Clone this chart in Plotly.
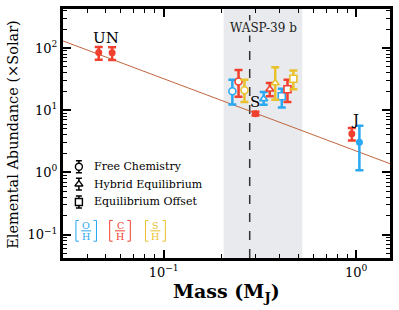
import numpy as np
import plotly.graph_objects as go

# ---------------- data ----------------
trend_mass = [0.03, 1.5]
trend_abund = [130.0, 1.38]

ss_CH_mass = [0.046, 0.054, 0.30, 0.95]
ss_CH = [85.0, 84.0, 8.8, 4.2]
ss_CH_plus = [19.0, 19.0, 0.6, 0.95]
ss_CH_minus = [20.0, 20.0, 0.6, 0.95]

ss_OH_mass = [1.04]
ss_OH = [3.05]
ss_OH_plus = [2.55]
ss_OH_minus = [1.97]

methods = ["Free Chemistry", "Hybrid Equilibrium", "Equilibrium Offset"]
method_symbols = ["circle", "triangle-up", "square"]

w39_mass_OH = [0.2275, 0.331, 0.411]
w39_OH = [20.2, 15.2, 16.8]
w39_OH_plus = [10.6, 4.5, 5.4]
w39_OH_minus = [7.8, 3.0, 5.7]

w39_mass_CH = [0.245, 0.356, 0.440]
w39_CH = [29.0, 21.7, 21.7]
w39_CH_plus = [15.5, 5.7, 9.1]
w39_CH_minus = [12.6, 4.9, 8.1]

w39_mass_SH = [0.263, 0.380, 0.472]
w39_SH = [20.9, 27.4, 32.0]
w39_SH_plus = [9.9, 21.6, 11.5]
w39_SH_minus = [7.3, 12.7, 10.3]

wasp39_mass = 0.28
wasp39_band = [0.205, 0.525]

ratio_labels = [("O", "H"), ("C", "H"), ("S", "H")]

x_tickvals = [0.1, 1]
x_ticktext = ["10<sup>−1</sup>", "10<sup>0</sup>"]
y_tickvals = [0.1, 1, 10, 100]
y_ticktext = ["10<sup>−1</sup>", "10<sup>0</sup>", "10<sup>1</sup>", "10<sup>2</sup>"]

# ---------------- style ----------------
BLUE = "#2aa8f2"
RED = "#f2402e"
YEL = "#e8c12c"
FONT = "DejaVu Serif"

L, R, T, B = 63, 392, 6, 258  # plot area in pixels


def px(x):
    return (x - L) / (R - L)


def py(y):
    return (B - y) / (B - T)


def label(x, y, text, size, color="black", **kw):
    d = dict(x=px(x), y=py(y), xref="paper", yref="paper", text=text, showarrow=False,
             xanchor="center", yanchor="middle",
             font=dict(family=FONT, size=size, color=color))
    d.update(kw)
    return d


fig = go.Figure()

# trend line
fig.add_trace(go.Scatter(x=trend_mass, y=trend_abund, mode="lines",
                         line=dict(color="#c0653e", width=1), hoverinfo="skip"))


def eb(plus, minus, color, th=2.5):
    return dict(type="data", symmetric=False, array=plus, arrayminus=minus,
                color=color, thickness=th, width=4)


# solar system
fig.add_trace(go.Scatter(x=ss_CH_mass, y=ss_CH, mode="markers",
                         marker=dict(color=RED, size=7, symbol="circle"),
                         error_y=eb(ss_CH_plus, ss_CH_minus, RED)))
fig.add_trace(go.Scatter(x=ss_OH_mass, y=ss_OH, mode="markers",
                         marker=dict(color=BLUE, size=7, symbol="circle"),
                         error_y=eb(ss_OH_plus, ss_OH_minus, BLUE)))

# WASP-39b
for mx, vals, pl, mi, col in [
    (w39_mass_OH, w39_OH, w39_OH_plus, w39_OH_minus, BLUE),
    (w39_mass_CH, w39_CH, w39_CH_plus, w39_CH_minus, RED),
    (w39_mass_SH, w39_SH, w39_SH_plus, w39_SH_minus, YEL),
]:
    fig.add_trace(go.Scatter(x=mx, y=vals, mode="markers",
                             marker=dict(color="white", size=7, symbol=method_symbols,
                                         line=dict(color=col, width=1.6)),
                             error_y=eb(pl, mi, col)))

# legend (pixel overlay axes)
leg_y = [165.7, 183.3, 201.3]
fig.add_trace(go.Scatter(x=[79, 79, 79], y=leg_y, mode="markers", xaxis="x2", yaxis="y2",
                         marker=dict(color="white", size=7, symbol=method_symbols,
                                     line=dict(color="black", width=1.4)),
                         error_y=dict(type="data", array=[6, 6, 6], color="black",
                                      thickness=1.5, width=3)))

annotations = []
for yy, name in zip(leg_y, methods):
    annotations.append(label(92, yy, name, 11, xanchor="left"))

shapes = [
    dict(type="rect", xref="x", yref="paper", x0=wasp39_band[0], x1=wasp39_band[1],
         y0=0, y1=1, fillcolor="#e9eaee", line=dict(width=0), layer="below"),
    dict(type="line", xref="x", yref="paper", x0=wasp39_mass, x1=wasp39_mass,
         y0=0, y1=1, line=dict(color="#333333", width=1.5, dash="dash"), layer="below"),
]

# ratio labels with brackets
br = [(76, 96.7), (110, 130.7), (146, 166)]
for (lx, rx), (num, den), col in zip(br, ratio_labels, [BLUE, RED, YEL]):
    top, bot = 220, 241
    shapes.append(dict(type="path", xref="x2", yref="y2",
                       path=f"M {lx+3} {top} L {lx} {top} L {lx} {bot} L {lx+3} {bot}",
                       line=dict(color=col, width=1)))
    shapes.append(dict(type="path", xref="x2", yref="y2",
                       path=f"M {rx-3} {top} L {rx} {top} L {rx} {bot} L {rx-3} {bot}",
                       line=dict(color=col, width=1)))
    cx = (lx + rx) / 2
    shapes.append(dict(type="line", xref="x2", yref="y2", x0=cx - 5, x1=cx + 5,
                       y0=230.5, y1=230.5, line=dict(color=col, width=1)))
    annotations.append(label(cx, 225.0, num, 9.5, col))
    annotations.append(label(cx, 236.4, den, 9.5, col))

# planet labels
for tx, ty, txt in [(106, 35, "UN"), (256, 100, "S"), (357, 118, "J")]:
    annotations.append(label(tx, ty, txt, 15))

annotations.append(label(265, 25, "WASP-39 b", 12, "#222222", bgcolor="#e9eaee", borderpad=0))

# axis titles
annotations.append(label(13, 133, "Elemental Abundance (×Solar)", 14.5, textangle=-90))
annotations.append(label(228, 293, "<b>Mass (M<sub>J</sub>)</b>", 19))

axis_common = dict(type="log", showgrid=False, zeroline=False, showline=True, linewidth=3,
                   linecolor="black", mirror="allticks", ticks="inside", ticklen=8,
                   tickwidth=2, tickcolor="black", tickmode="array",
                   tickfont=dict(family=FONT, size=13, color="black"),
                   minor=dict(ticks="inside", ticklen=4, tickwidth=1.3, tickcolor="black",
                              dtick="D1", showgrid=False))

fig.update_layout(
    width=399, height=310,
    margin=dict(l=L, r=399 - R, t=T, b=310 - B),
    paper_bgcolor="white", plot_bgcolor="white",
    showlegend=False,
    xaxis=dict(range=[np.log10(0.03), np.log10(1.5)], tickvals=x_tickvals,
               ticktext=x_ticktext, **axis_common),
    yaxis=dict(range=[np.log10(0.042), np.log10(424)], tickvals=y_tickvals,
               ticktext=y_ticktext, **axis_common),
    xaxis2=dict(range=[L, R], overlaying="x", anchor="y2", visible=False, fixedrange=True),
    yaxis2=dict(range=[B, T], overlaying="y", anchor="x2", visible=False, fixedrange=True),
    shapes=shapes, annotations=annotations,
)

fig.write_html("out.html", config={"displayModeBar": False},
               post_script="document.body.style.margin='0px';")
